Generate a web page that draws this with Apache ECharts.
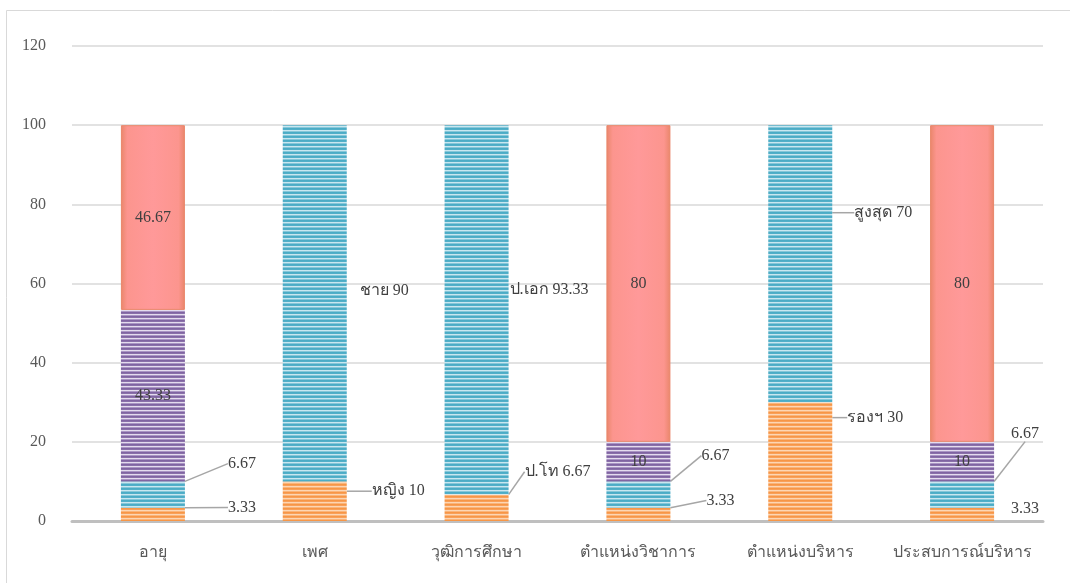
<!DOCTYPE html>
<html>
<head>
<meta charset="utf-8">
<script src="https://cdn.jsdelivr.net/npm/echarts@6/dist/echarts.min.js"></script>
<style>
html,body{margin:0;padding:0;background:#fff;}
#main{width:1070px;height:583px;}
</style>
</head>
<body>
<div id="main"></div>
<script>
// ---- data ----
var categories = ['อายุ', 'เพศ', 'วุฒิการศึกษา', 'ตำแหน่งวิชาการ', 'ตำแหน่งบริหาร', 'ประสบการณ์บริหาร'];
var orangeValues = [3.33, 10, 6.67, 3.33, 30, 3.33];
var blueValues = [6.67, 90, 93.33, 6.67, 70, 6.67];
var purpleValues = [43.33, null, null, 10, null, 10];
var redValues = [46.67, null, null, 80, null, 80];
var orangeNames = ['', 'หญิง', 'ป.โท', '', 'รองฯ', ''];
var blueNames = ['', 'ชาย', 'ป.เอก', '', 'สูงสุด', ''];
var yTicks = [0, 20, 40, 60, 80, 100, 120];

// ---- label layout (offsets only, no data) ----
var orangeOffsets = [[43, -7], [25, -10], [16, -36], [36, -14], [15, -44], [17, -6]];
var blueOffsets = [[43, -31], [13, -12], [1, -20], [31, -39], [22, -51], [17, -61]];
var orangeLeader = [true, true, true, true, true, false];
var blueLeader = [true, false, false, true, true, true];

function stripes(rows) {
  var c = document.createElement('canvas');
  c.width = 8; c.height = rows.length;
  var ctx = c.getContext('2d');
  for (var i = 0; i < rows.length; i++) {
    ctx.fillStyle = rows[i];
    ctx.fillRect(0, i, 8, 1);
  }
  return { image: c, repeat: 'repeat' };
}
var orangeFill = stripes(['#F79646', '#F8A05A', '#FCD6B4', '#FAB47A']);
var blueFill = stripes(['#4BACC6', '#52AFC8', '#C9E7F0', '#86C7D9']);
var purpleFill = stripes(['#8064A2', '#8A70AA', '#E4DCEE', '#AA95C4']);
var redFill = {
  type: 'linear', x: 0, y: 0, x2: 1, y2: 0,
  colorStops: [
    { offset: 0, color: '#E9866A' },
    { offset: 0.1, color: '#FC958E' },
    { offset: 0.5, color: '#FF9999' },
    { offset: 0.9, color: '#FC958E' },
    { offset: 1, color: '#E9866A' }
  ]
};

var FONT = '"Liberation Serif", "Times New Roman", serif';
var chart = echarts.init(document.getElementById('main'));

function outerSeries(name, values, names, fill, offsets, leader) {
  return {
    name: name, type: 'bar', stack: 'total', barWidth: 64,
    data: values.map(function (v, i) {
      return { value: v, labelLine: { show: leader[i] } };
    }),
    itemStyle: { color: fill },
    label: {
      show: true, position: 'right', distance: 0,
      color: '#404040', fontSize: 16, fontFamily: FONT,
      formatter: function (p) {
        var n = names[p.dataIndex];
        return (n ? n + ' ' : '') + p.value;
      }
    },
    labelLine: { show: true, lineStyle: { color: '#A6A6A6', width: 1.5 } },
    labelLayout: function (p) {
      var o = offsets[p.dataIndex];
      return { dx: o[0], dy: o[1] };
    }
  };
}
function innerSeries(name, values, fill, border) {
  return {
    name: name, type: 'bar', stack: 'total', barWidth: 64,
    data: values,
    itemStyle: border ? { color: fill, borderColor: border, borderWidth: 1 } : { color: fill },
    label: {
      show: true, position: 'inside',
      color: '#404040', fontSize: 16, fontFamily: FONT,
      formatter: function (p) { return p.value; }
    }
  };
}

var option = {
  backgroundColor: '#fff',
  animation: false,
  grid: { left: 72, right: 27, top: 46, bottom: 62 },
  graphic: [{
    type: 'rect', shape: { x: 6.5, y: 10.5, width: 1080, height: 600 },
    style: { fill: 'none', stroke: '#D9D9D9', lineWidth: 1 }, silent: true, z: -10
  }],
  xAxis: {
    type: 'category', data: categories,
    axisLine: { lineStyle: { color: '#BFBFBF', width: 3 } },
    axisTick: { show: false },
    axisLabel: { interval: 0, color: '#595959', fontSize: 16, fontFamily: FONT, margin: 24 }
  },
  yAxis: {
    type: 'value', min: yTicks[0], max: yTicks[yTicks.length - 1], interval: 20,
    axisLine: { show: false }, axisTick: { show: false },
    axisLabel: { color: '#595959', fontSize: 16, fontFamily: FONT, margin: 26 },
    splitLine: { lineStyle: { color: '#D9D9D9', width: 1.5 } }
  },
  series: [
    outerSeries('orange', orangeValues, orangeNames, orangeFill, orangeOffsets, orangeLeader),
    outerSeries('blue', blueValues, blueNames, blueFill, blueOffsets, blueLeader),
    innerSeries('purple', purpleValues, purpleFill),
    innerSeries('red', redValues, redFill, '#E9866A')
  ]
};
chart.setOption(option);
</script>
</body>
</html>
